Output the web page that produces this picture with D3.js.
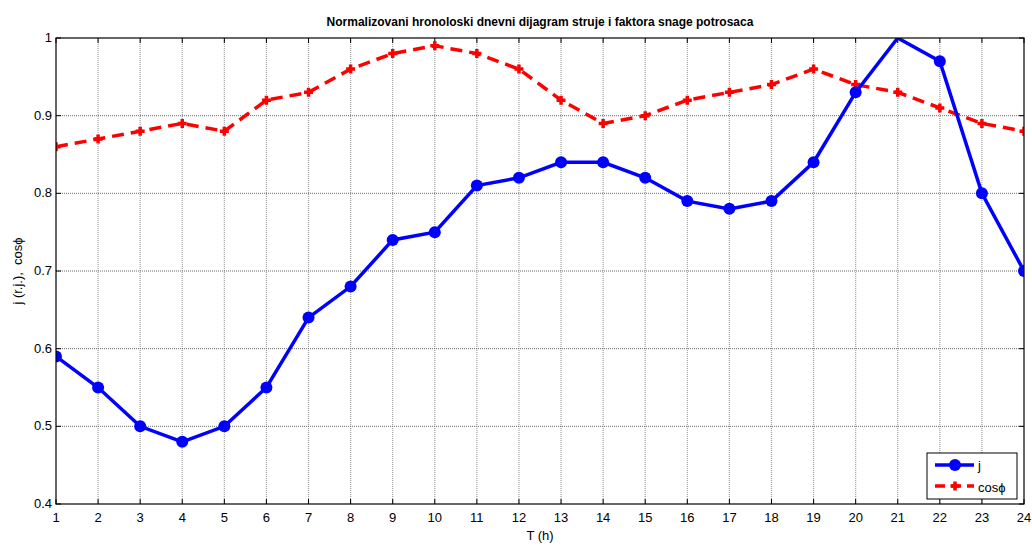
<!DOCTYPE html>
<html>
<head>
<meta charset="utf-8">
<script src="https://cdn.jsdelivr.net/npm/d3@7"></script>
<style>
  body { margin: 0; background: #fff; }
  svg { display: block; font-family: "Liberation Sans", Arial, sans-serif; }
</style>
</head>
<body>
<svg id="chart" width="1032" height="546"></svg>
<script>
// Hours of the day
const hours = [1,2,3,4,5,6,7,8,9,10,11,12,13,14,15,16,17,18,19,20,21,22,23,24];
// Normalized current j (r.j.)
const currentJ = [0.59,0.55,0.50,0.48,0.50,0.55,0.64,0.68,0.74,0.75,0.81,0.82,0.84,0.84,0.82,0.79,0.78,0.79,0.84,0.93,1.00,0.97,0.80,0.70];
// Power factor cos phi
const powerFactor = [0.86,0.87,0.88,0.89,0.88,0.92,0.93,0.96,0.98,0.99,0.98,0.96,0.92,0.89,0.90,0.92,0.93,0.94,0.96,0.94,0.93,0.91,0.89,0.88];
// Y tick values and labels
const yTicks = [0.4,0.5,0.6,0.7,0.8,0.9,1.0];
const yTickLabels = ["0.4","0.5","0.6","0.7","0.8","0.9","1"];

const svg = d3.select("#chart");
const m = { left: 56, right: 1024, top: 38, bottom: 504 };

const x = d3.scaleLinear().domain([1, 24]).range([m.left, m.right]);
const y = d3.scaleLinear().domain([0.4, 1.0]).range([m.bottom, m.top]);

svg.append("defs").append("clipPath").attr("id", "plotClip")
  .append("rect").attr("x", m.left).attr("y", m.top)
  .attr("width", m.right - m.left).attr("height", m.bottom - m.top);

// Grid lines
const grid = svg.append("g");
grid.selectAll("line.vx").data(hours.slice(1, -1)).enter().append("line")
  .attr("x1", d => x(d)).attr("x2", d => x(d))
  .attr("y1", m.top).attr("y2", m.bottom)
  .attr("stroke", "#a0a0a0").attr("stroke-width", 1.2).attr("stroke-dasharray", "1,1");
grid.selectAll("line.hy").data(yTicks.slice(1, -1)).enter().append("line")
  .attr("y1", d => y(d)).attr("y2", d => y(d))
  .attr("x1", m.left).attr("x2", m.right)
  .attr("stroke", "#6a6a6a").attr("stroke-width", 1).attr("stroke-dasharray", "1,1");

// Inward tick marks on all four sides
const tl = 5;
const ticks = svg.append("g").attr("stroke", "#000").attr("stroke-width", 1);
hours.forEach(h => {
  ticks.append("line").attr("x1", x(h)).attr("x2", x(h)).attr("y1", m.bottom).attr("y2", m.bottom - tl);
  ticks.append("line").attr("x1", x(h)).attr("x2", x(h)).attr("y1", m.top).attr("y2", m.top + tl);
});
yTicks.forEach(v => {
  ticks.append("line").attr("y1", y(v)).attr("y2", y(v)).attr("x1", m.left).attr("x2", m.left + tl);
  ticks.append("line").attr("y1", y(v)).attr("y2", y(v)).attr("x1", m.right).attr("x2", m.right - tl);
});

// Tick labels
svg.append("g").selectAll("text").data(hours).enter().append("text")
  .attr("x", d => x(d)).attr("y", m.bottom + 18)
  .attr("text-anchor", "middle").attr("font-size", 13).text(d => d);
svg.append("g").selectAll("text").data(yTicks).enter().append("text")
  .attr("x", m.left - 4).attr("y", d => y(d) + 4)
  .attr("text-anchor", "end").attr("font-size", 13).text((d, i) => yTickLabels[i]);

// Series
const plot = svg.append("g").attr("clip-path", "url(#plotClip)");
const line = d3.line().x((d, i) => x(hours[i])).y(d => y(d));

plot.append("path").datum(powerFactor).attr("d", line)
  .attr("fill", "none").attr("stroke", "#ff0000").attr("stroke-width", 3.5)
  .attr("stroke-dasharray", "12,7");
const plusPath = "M-4.5,0H4.5M0,-4.5V4.5";
plot.selectAll("path.pf").data(powerFactor).enter().append("path")
  .attr("d", plusPath)
  .attr("transform", (d, i) => `translate(${x(hours[i])},${y(d)})`)
  .attr("stroke", "#ff0000").attr("stroke-width", 3.5).attr("fill", "none");

plot.append("path").datum(currentJ).attr("d", line)
  .attr("fill", "none").attr("stroke", "#0000ff").attr("stroke-width", 3.5);
plot.selectAll("circle.j").data(currentJ.map((v, i) => [hours[i], v]).filter(p => p[1] < 1))
  .enter().append("circle")
  .attr("cx", d => x(d[0])).attr("cy", d => y(d[1])).attr("r", 6)
  .attr("fill", "#0000ff");

// Axes box
svg.append("rect").attr("x", m.left).attr("y", m.top)
  .attr("width", m.right - m.left).attr("height", m.bottom - m.top)
  .attr("fill", "none").attr("stroke", "#000").attr("stroke-width", 1.2);

// Title and axis labels
svg.append("text").attr("x", (m.left + m.right) / 2).attr("y", 26)
  .attr("text-anchor", "middle").attr("font-size", 12).attr("font-weight", "bold")
  .text("Normalizovani hronoloski dnevni dijagram struje i faktora snage potrosaca");
svg.append("text").attr("x", (m.left + m.right) / 2).attr("y", 540)
  .attr("text-anchor", "middle").attr("font-size", 13).text("T (h)");
svg.append("text").attr("transform", `translate(22,${(m.top + m.bottom) / 2}) rotate(-90)`)
  .attr("text-anchor", "middle").attr("font-size", 13).attr("xml:space", "preserve")
  .text("j (r.j.),  cos\u03D5");

// Legend
const lg = svg.append("g");
lg.append("rect").attr("x", 927).attr("y", 453).attr("width", 90).attr("height", 46)
  .attr("fill", "#fff").attr("stroke", "#000").attr("stroke-width", 1);
lg.append("line").attr("x1", 935).attr("x2", 974).attr("y1", 465).attr("y2", 465)
  .attr("stroke", "#0000ff").attr("stroke-width", 3.5);
lg.append("circle").attr("cx", 955).attr("cy", 465).attr("r", 6).attr("fill", "#0000ff");
lg.append("text").attr("x", 978).attr("y", 470).attr("font-size", 13).text("j");
lg.append("line").attr("x1", 935).attr("x2", 974).attr("y1", 486).attr("y2", 486)
  .attr("stroke", "#ff0000").attr("stroke-width", 3.5).attr("stroke-dasharray", "10,6");
lg.append("path").attr("d", plusPath).attr("transform", "translate(955,486)")
  .attr("stroke", "#ff0000").attr("stroke-width", 3.5);
lg.append("text").attr("x", 978).attr("y", 492).attr("font-size", 13).text("cos\u03D5");
</script>
</body>
</html>
